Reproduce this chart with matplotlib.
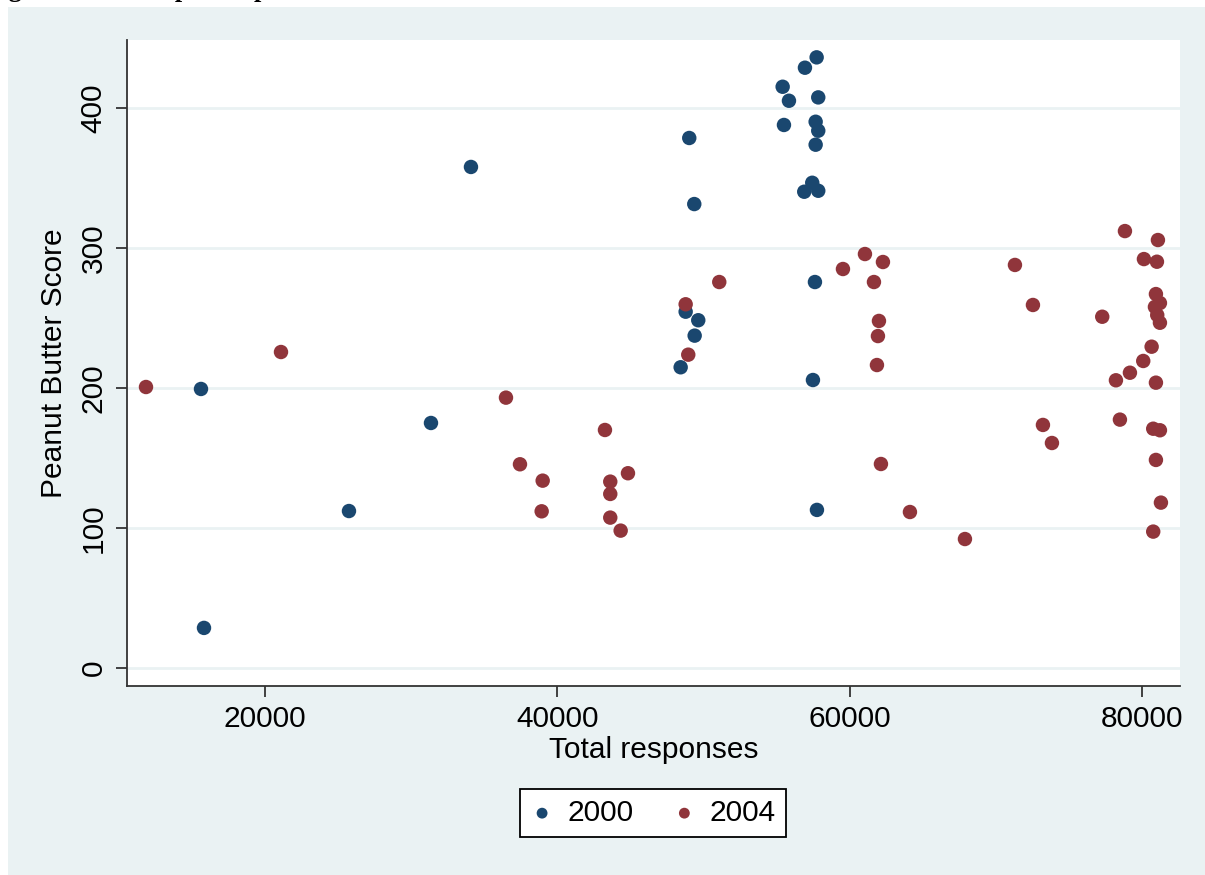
import matplotlib
matplotlib.use("Agg")
import matplotlib.pyplot as plt
from matplotlib.patches import Rectangle

plt.rcParams['font.family'] = ['Liberation Sans', 'DejaVu Sans']

# 2000 survey: total responses vs score
resp_2000 = [15622, 15827, 25746, 31356, 34092, 49026, 49369, 48780, 48438,
             49396, 49642, 55416, 55847, 55505, 56941, 57741, 57851, 57673,
             57851, 57673, 57440, 56893, 57851, 57625, 57488, 57762]
score_2000 = [199.3, 28.6, 112.1, 175.0, 357.9, 378.6, 331.4, 254.5, 214.8,
              237.4, 248.4, 415.2, 405.2, 387.9, 428.8, 436.2, 407.6, 390.2,
              383.8, 373.8, 346.6, 340.2, 340.9, 275.7, 205.7, 112.9]

# 2004 survey
resp_2004 = [11859, 21095, 36487, 37445, 38998, 38929, 43259, 43622, 43622,
             43622, 44333, 44833, 48780, 48958, 51079, 59541, 61046, 61662,
             62277, 62004, 61935, 61867, 62140, 64124, 67887, 71308, 72539,
             73223, 73839, 77280, 78217, 78490, 78833, 79175, 80132, 80085,
             80659, 81090, 81022, 80953, 81227, 80885, 81043, 81227, 80953,
             80768, 81227, 80953, 81295, 80768]
score_2004 = [200.7, 225.7, 193.1, 145.5, 133.8, 111.9, 170.0, 133.1, 124.3,
              107.4, 98.1, 139.1, 259.8, 223.8, 275.7, 285.0, 295.7, 275.7,
              290.0, 247.9, 237.1, 216.4, 145.7, 111.4, 92.1, 287.9, 259.3,
              173.6, 160.7, 250.9, 205.5, 177.4, 312.1, 210.9, 292.1, 219.3,
              229.5, 305.7, 290.2, 267.1, 260.7, 257.9, 252.1, 246.6, 203.8,
              170.9, 169.8, 148.6, 118.1, 97.4]

x_ticks = [20000, 40000, 60000, 80000]
y_ticks = [0, 100, 200, 300, 400]

bg = '#eaf2f3'
navy = '#1a476f'
maroon = '#90353b'

fig = plt.figure(figsize=(12.05, 8.75), dpi=100)
fig.patch.set_facecolor('white')
# graph region (page stays white above and to the left)
fig.patches.append(Rectangle((8 / 1205, 0), 1, 1 - 7 / 875, transform=fig.transFigure,
                             facecolor=bg, edgecolor='none', zorder=-5))

# caption line from the page above, mostly cropped off
fig.text(-15 / 1205, 1 + 3 / 875, 'Figure 2: Scatterplot of peanut butter scores',
         family='Liberation Serif', fontweight='bold', fontsize=19,
         va='baseline', ha='left', zorder=-4)

ax = fig.add_axes([127 / 1205, 1 - 686 / 875, (1180 - 127) / 1205, (686 - 40) / 875],
                  zorder=2)
ax.set_facecolor('white')

ax.scatter(resp_2000, score_2000, s=108, color=navy, edgecolors='none', label='2000', zorder=3)
ax.scatter(resp_2004, score_2004, s=108, color=maroon, edgecolors='none', label='2004', zorder=3)

ax.set_xlim(10560, 82600)
ax.set_ylim(-12.9, 448.6)
ax.set_xticks(x_ticks)
ax.set_yticks(y_ticks)
ax.set_xticklabels([str(v) for v in x_ticks], fontsize=21.5)
ax.set_yticklabels([str(v) for v in y_ticks], fontsize=21.5, rotation=90, va='center')

ax.grid(axis='y', color=bg, linewidth=2, zorder=1)
ax.grid(axis='x', visible=False)
ax.set_axisbelow(True)

for side in ['top', 'right']:
    ax.spines[side].set_visible(False)
for side in ['left', 'bottom']:
    ax.spines[side].set_color('#333333')
    ax.spines[side].set_linewidth(1.3)
ax.tick_params(axis='both', length=8, width=1.3, color='#333333', pad=6)

ax.set_xlabel('Total responses', fontsize=21.5, labelpad=2)
ax.set_ylabel('Peanut Butter Score', fontsize=21.5, labelpad=8)

leg = fig.legend(loc='center', bbox_to_anchor=(653 / 1205, 1 - 813 / 875), ncol=2,
                 fontsize=21.5, frameon=True, fancybox=False, edgecolor='black',
                 framealpha=1, facecolor='white',
                 handlelength=0.8, handletextpad=0.45, columnspacing=1.3,
                 borderpad=0.35, markerscale=0.75, scatterpoints=1)
leg.get_frame().set_linewidth(1.3)
leg.set_zorder(5)

fig.savefig('out.png', dpi=100, facecolor=fig.get_facecolor())
